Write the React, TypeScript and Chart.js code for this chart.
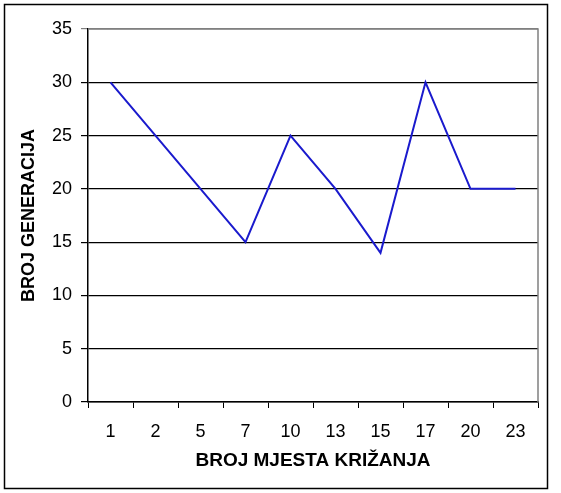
import React, { useEffect, useRef } from 'react';
import { Chart, registerables } from 'chart.js';

Chart.register(...registerables);

// categories and values
const crossingPoints = ['1', '2', '5', '7', '10', '13', '15', '17', '20', '23'];
const generations = [30, 25, 20, 15, 25, 20, 14, 30, 20, 20];
const yTicks = [0, 5, 10, 15, 20, 25, 30, 35];

const LINE_BLUE = '#1a1acd';
const FONT = '"Liberation Sans", Arial, sans-serif';

// white page, outer frame and the grey top/right edge of the plot area
const framePlugin = {
  id: 'frame',
  beforeDraw: (chart: any) => {
    const { ctx, width, height } = chart;
    ctx.save();
    ctx.fillStyle = '#ffffff';
    ctx.fillRect(0, 0, width, height);
    ctx.strokeStyle = '#000000';
    ctx.lineWidth = 1.5;
    ctx.strokeRect(4.5, 4.5, 543, 484);
    ctx.restore();
  },
  afterDraw: (chart: any) => {
    const { ctx, chartArea } = chart;
    ctx.save();
    ctx.strokeStyle = '#808080';
    ctx.lineWidth = 1.5;
    ctx.beginPath();
    ctx.moveTo(chartArea.left, chartArea.top);
    ctx.lineTo(chartArea.right, chartArea.top);
    ctx.lineTo(chartArea.right, chartArea.bottom);
    ctx.stroke();
    ctx.restore();
  },
};

const App = () => {
  const canvasRef = useRef<HTMLCanvasElement>(null);

  useEffect(() => {
    const ctx = canvasRef.current!.getContext('2d')!;
    const chart = new Chart(ctx, {
      type: 'line',
      data: {
        labels: crossingPoints,
        datasets: [
          {
            label: 'Broj generacija',
            data: generations,
            borderColor: LINE_BLUE,
            backgroundColor: LINE_BLUE,
            borderWidth: 2,
            pointRadius: 0,
            tension: 0,
          },
        ],
      },
      options: {
        animation: false,
        responsive: false,
        devicePixelRatio: 1,
        layout: { padding: { left: 0, top: 29, right: 23, bottom: 0 } },
        plugins: {
          legend: { display: false },
          tooltip: { enabled: false },
        },
        scales: {
          x: {
            offset: true,
            afterFit: (scale: any) => {
              scale.height = 91;
            },
            grid: {
              offset: true,
              drawOnChartArea: false,
              drawTicks: true,
              tickLength: 6,
              color: '#000000',
              lineWidth: 1,
            },
            border: { color: '#000000', width: 1.5 },
            ticks: {
              color: '#000000',
              padding: 13,
              maxRotation: 0,
              font: { family: FONT, size: 18 },
            },
            title: {
              display: true,
              text: 'BROJ MJESTA KRIŽANJA',
              color: '#000000',
              padding: { top: 0, bottom: 21 },
              font: { family: FONT, size: 19, weight: 'bold' },
            },
          },
          y: {
            min: 0,
            max: 35,
            afterFit: (scale: any) => {
              scale.width = 88;
            },
            afterBuildTicks: (scale: any) => {
              scale.ticks = yTicks.map((v) => ({ value: v }));
            },
            grid: {
              drawTicks: true,
              tickLength: 7,
              color: (c: any) => (c.tick && c.tick.value === 35 ? '#808080' : '#000000'),
              lineWidth: 1.2,
            },
            border: { color: '#000000', width: 1.5 },
            ticks: {
              color: '#000000',
              padding: 9,
              font: { family: FONT, size: 18 },
            },
            title: {
              display: true,
              text: 'BROJ GENERACIJA',
              color: '#000000',
              padding: { top: 18, bottom: 0 },
              font: { family: FONT, size: 18, weight: 'bold' },
            },
          },
        },
      },
      plugins: [framePlugin],
    });

    return () => {
      chart.destroy();
    };
  }, []);

  return (
    <div style={{ position: 'absolute', left: 0, top: 0, width: 561, height: 493 }}>
      <canvas ref={canvasRef} width={561} height={493} style={{ width: 561, height: 493 }} />
    </div>
  );
};

export default App;
